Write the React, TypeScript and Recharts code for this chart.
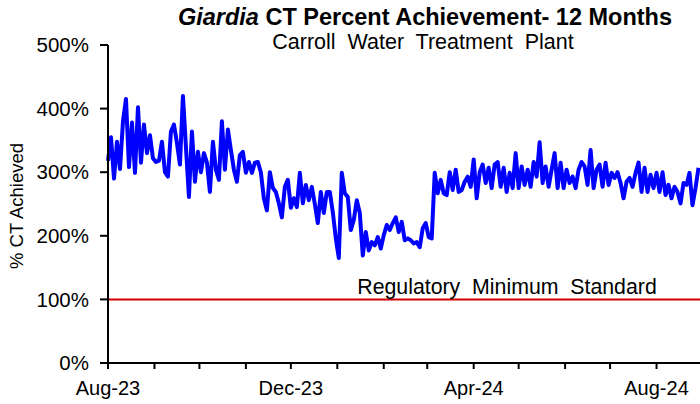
import React from 'react';
import { LineChart, Line, XAxis, YAxis, ReferenceLine } from 'recharts';

const FONT = '"Liberation Sans", Arial, Helvetica, sans-serif';

const COLORS = {
  line: '#0000ff',
  minimum: '#d00000',
  axis: '#000000',
  text: '#000000',
};

// first reading date, readings every 2 days
const START_DATE = '2023-08-01';
const STEP_DAYS = 2;

// % CT achieved
const ctValues = [
  318, 355, 290, 348, 305, 380, 415, 308, 378, 299, 402, 315, 375, 330, 358, 322,
  316, 318, 348, 300, 293, 364, 375, 346, 312, 420, 340, 261, 364, 285, 332, 300,
  330, 315, 269, 348, 304, 288, 380, 304, 367, 335, 304, 285, 327, 332, 299, 316,
  299, 315, 316, 300, 259, 240, 300, 275, 269, 251, 229, 277, 288, 244, 259, 245,
  299, 251, 280, 256, 277, 250, 220, 269, 236, 269, 269, 237, 196, 165, 299, 267,
  261, 209, 225, 256, 236, 169, 206, 177, 190, 185, 198, 180, 201, 217, 209, 220,
  229, 206, 222, 193, 196, 193, 188, 190, 182, 212, 220, 198, 196, 299, 267, 288,
  267, 264, 300, 272, 304, 269, 272, 285, 293, 277, 320, 259, 300, 312, 283, 307,
  275, 312, 316, 277, 307, 269, 299, 275, 330, 275, 309, 280, 304, 277, 316, 293,
  347, 283, 309, 277, 304, 330, 275, 315, 275, 304, 283, 293, 275, 304, 316, 309,
  280, 335, 275, 304, 312, 277, 315, 280, 299, 291, 300, 283, 259, 285, 291, 277,
  299, 315, 269, 307, 269, 296, 275, 299, 269, 300, 264, 280, 259, 277, 269, 251,
  283, 280, 299, 248, 275, 307,
];

const monthStarts = [
  '2023-08-01', '2023-09-01', '2023-10-01', '2023-11-01', '2023-12-01', '2024-01-01', '2024-02-01',
  '2024-03-01', '2024-04-01', '2024-05-01', '2024-06-01', '2024-07-01', '2024-08-01',
];
const monthLabels = ['Aug-23', '', '', '', 'Dec-23', '', '', '', 'Apr-24', '', '', '', 'Aug-24'];

const yTicks = [0, 100, 200, 300, 400, 500];
const regulatoryMinimum = 100;

const DAY_MS = 24 * 60 * 60 * 1000;
const dayOffset = (iso: string) => Math.round((Date.parse(iso) - Date.parse(START_DATE)) / DAY_MS);

const data = ctValues.map((v, i) => ({ day: i * STEP_DAYS, ct: v }));
const xTicks = monthStarts.map(dayOffset);
const labelFor = (day: number) => monthLabels[xTicks.indexOf(day)] ?? '';

const overlay: React.CSSProperties = {
  position: 'absolute',
  whiteSpace: 'pre',
  lineHeight: 1,
  fontFamily: FONT,
  color: COLORS.text,
  pointerEvents: 'none',
};

export default function App() {
  return (
    <div style={{ position: 'relative', width: 700, height: 404, background: '#fff' }}>
      <style>{'body{margin:0}'}</style>
      <LineChart width={700} height={404} data={data} margin={{ top: 45, right: 0, bottom: 0, left: 0 }}>
        <XAxis
          dataKey="day"
          type="number"
          domain={[0, 395]}
          ticks={xTicks}
          interval={0}
          tickFormatter={labelFor}
          height={41}
          tickSize={6}
          tickMargin={12}
          axisLine={{ stroke: COLORS.axis, strokeWidth: 2 }}
          tickLine={{ stroke: COLORS.axis, strokeWidth: 2 }}
          tick={{ fill: COLORS.text, fontSize: 20, fontFamily: FONT }}
        />
        <YAxis
          domain={[0, 500]}
          ticks={yTicks}
          interval={0}
          width={108}
          tickSize={8}
          tickMargin={11}
          tickFormatter={(v) => `${v}%`}
          axisLine={{ stroke: COLORS.axis, strokeWidth: 2 }}
          tickLine={{ stroke: COLORS.axis, strokeWidth: 2 }}
          tick={{ fill: COLORS.text, fontSize: 20.5, fontFamily: FONT }}
        />
        <ReferenceLine y={regulatoryMinimum} stroke={COLORS.minimum} strokeWidth={2} />
        <Line
          dataKey="ct"
          type="linear"
          stroke={COLORS.line}
          strokeWidth={4}
          strokeLinejoin="round"
          dot={false}
          isAnimationActive={false}
        />
      </LineChart>

      <div style={{ ...overlay, left: 425, top: 6, transform: 'translateX(-50%)', fontSize: 23.5, fontWeight: 700 }}>
        <i>Giardia</i> CT Percent Achievement- 12 Months
      </div>
      <div style={{ ...overlay, left: 423, top: 32, transform: 'translateX(-50%)', fontSize: 21.5 }}>
        {'Carroll  Water  Treatment  Plant'}
      </div>
      <div style={{ ...overlay, left: 507, top: 277, transform: 'translateX(-50%)', fontSize: 21.3 }}>
        {'Regulatory  Minimum  Standard'}
      </div>
      <div
        style={{
          ...overlay,
          left: 17,
          top: 206,
          transform: 'translate(-50%, -50%) rotate(-90deg)',
          fontSize: 18.5,
        }}
      >
        % CT Achieved
      </div>
    </div>
  );
}
